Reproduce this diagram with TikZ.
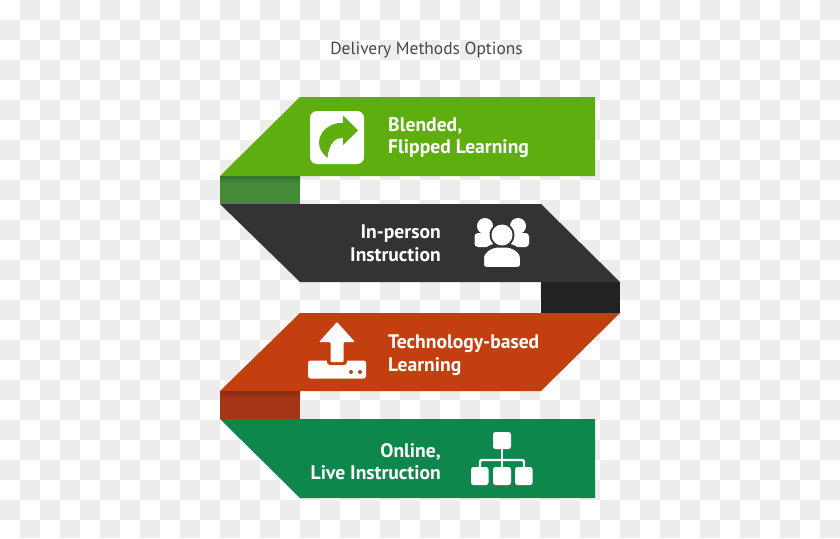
\documentclass[tikz,border=0pt]{standalone}
\usepackage{fontspec}
\setmainfont{PT Sans}
\definecolor{chk}{HTML}{EDEDED}
\definecolor{bandA}{HTML}{5EAE0F}
\definecolor{bandB}{HTML}{333333}
\definecolor{bandC}{HTML}{C33F10}
\definecolor{bandD}{HTML}{0E874D}
\definecolor{foldA}{HTML}{458B3A}
\definecolor{foldAd}{HTML}{2F6F2C}
\definecolor{foldB}{HTML}{222222}
\definecolor{foldC}{HTML}{A63517}
\definecolor{foldCd}{HTML}{8A2A14}
\tikzset{
  label text/.style={font=\bfseries\fontsize{19.6}{22.5}\selectfont,text=white,inner sep=0pt},
  left label/.style={label text,anchor=west,align=left},
  right label/.style={label text,anchor=east,align=right},
  title text/.style={font=\fontsize{17.4}{20}\selectfont,text=black!72,inner sep=0pt}
}
\begin{document}
\begin{tikzpicture}[x=1pt,y=-1pt]
\useasboundingbox (0,0) rectangle (840,538);
\fill[white] (0,0) rectangle (840,538);
% transparency checks
\foreach \r in {0,...,26}{
  \foreach \c in {0,...,41}{
    \pgfmathtruncatemacro{\odd}{mod(\r+\c,2)}
    \ifnum\odd=1
      \fill[chk] ({\c*20},{\r*20}) rectangle ({\c*20+20},{min(\r*20+20,538)});
    \fi
  }
}
% folds
\fill[foldA] (220,176) rectangle (300,204);
\shade[top color=foldAd,bottom color=foldA] (220,176) rectangle (300,183);
\fill[foldB] (541,282) rectangle (620,313);
\fill[foldC] (220,391) rectangle (300,419);
\shade[top color=foldCd,bottom color=foldC] (220,391) rectangle (300,398);
% bands
\fill[bandA] (220,176) -- (300,97) -- (595,97) -- (595,176) -- cycle;
\fill[bandB] (220,204) -- (541,204) -- (620,282) -- (300,282) -- cycle;
\fill[bandC] (300,313) -- (620,313) -- (541,391) -- (220,391) -- cycle;
\fill[bandD] (220,419) -- (595,419) -- (595,498) -- (300,498) -- cycle;
% title and labels
\node[title text] (title) at (426.5,50) {Delivery Methods Options};
\node[left label] (blended) at (388,137.5) {Blended,\\Flipped Learning};
\node[right label] (person) at (441,243.5) {In-person\\Instruction};
\node[left label] (tech) at (388,355) {Technology-based\\Learning};
\node[right label] (online) at (441,461.5) {Online,\\Live Instruction};
% share icon
\fill[white,rounded corners=7pt] (310,111) rectangle (364,164);
\fill[bandA] (343,115.5) -- (358,130.5) -- (343,145) -- (343,138)
  .. controls (336,137.5) and (329,142) .. (327.5,158)
  .. controls (323,154) and (319,149) .. (319,143)
  .. controls (319,131) and (331,122) .. (343,123) -- cycle;
% group icon
\fill[white] (485,226) circle (8);
\fill[white] (518,226) circle (8);
\fill[white,rounded corners=3.5pt] (474.5,233) rectangle (495,247);
\fill[white,rounded corners=3.5pt] (508,233) rectangle (529,247);
\fill[bandB] (502,235) circle (12.5);
\path[fill=white,draw=bandB,line width=4pt,rounded corners=4pt] (482,269) -- (482,262) .. controls (482,251) and (491,245.5) .. (502,245.5)
  .. controls (513,245.5) and (522,251) .. (522,262) -- (522,269) -- cycle;
\fill[white] (502,235) circle (10.5);
% upload icon
\fill[white,rounded corners=2.5pt] (308,360.5) rectangle (366,378.5);
\fill[bandC,rounded corners=3pt] (327,355) rectangle (347,365);
\fill[white,rounded corners=1pt] (337,322) -- (355,342) -- (343.5,342) -- (343.5,362) -- (330.5,362) -- (330.5,342) -- (319,342) -- cycle;
\fill[bandC] (351,372) circle (2);
\fill[bandC] (360,372) circle (2);
% hierarchy icon
\fill[white,rounded corners=2.5pt] (493,432) rectangle (511,449);
\fill[white,rounded corners=2.5pt] (471,467) rectangle (488.5,485);
\fill[white,rounded corners=2.5pt] (493,467) rectangle (511,485);
\fill[white,rounded corners=2.5pt] (515,467) rectangle (532.5,485);
\draw[white,line width=2.4pt] (502,449) -- (502,467);
\draw[white,line width=2.4pt,rounded corners=2pt] (480,467) -- (480,460) -- (524,460) -- (524,467);
\end{tikzpicture}
\end{document}
